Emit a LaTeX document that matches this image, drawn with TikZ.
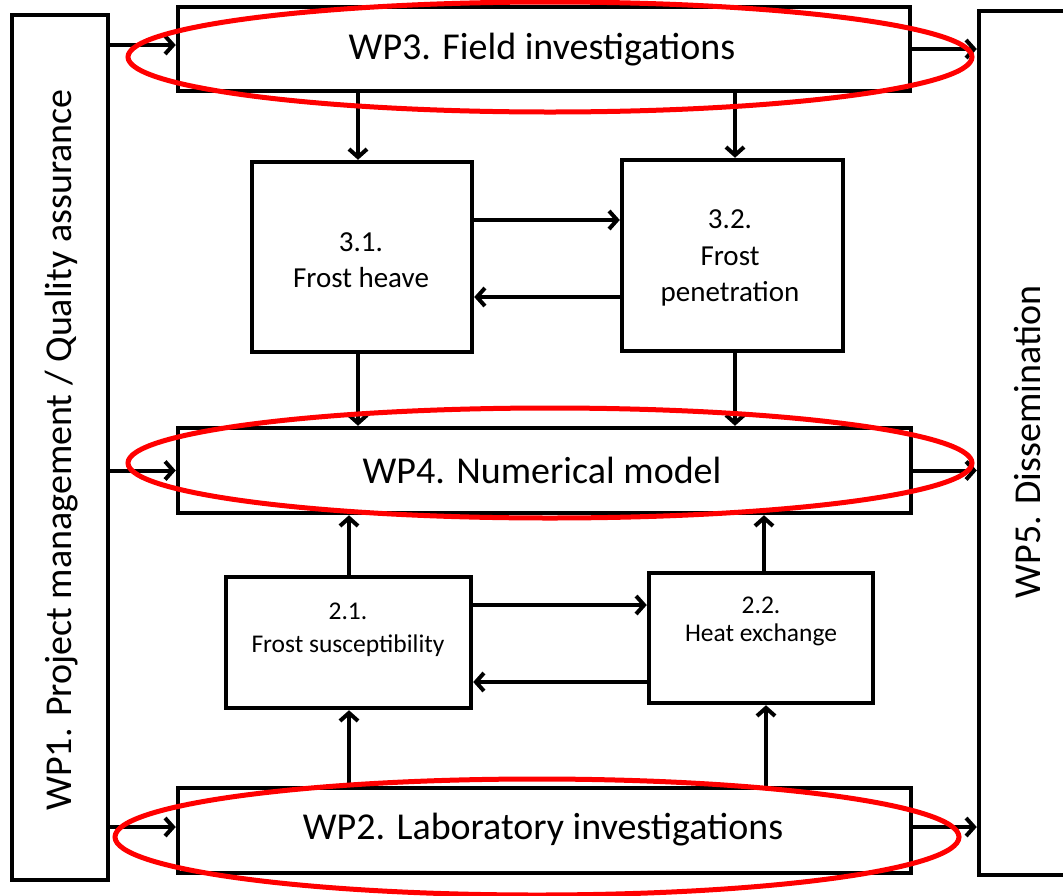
\documentclass[tikz,border=0pt]{standalone}
\usepackage{fontspec}
\setmainfont{Carlito}
\usetikzlibrary{arrows.meta}
\begin{document}
\begin{tikzpicture}[x=1pt,y=-1pt,
  wpbox/.style={draw, line width=4.5pt, inner sep=0pt, fill=white},
  arr/.style={line width=4pt, -{Straight Barb[length=8pt,width=18pt,line width=4pt]}},
  ring/.style={draw=red, line width=5pt},
  big/.style={font=\fontsize{38}{44}\selectfont},
  mid/.style={font=\fontsize{29}{36.5}\selectfont, align=center},
  small/.style={font=\fontsize{25.5}{33}\selectfont, align=center}]
\clip (0,0) rectangle (1063,895);
\fill[white] (0,0) rectangle (1063,895);
% boxes
\node[wpbox, minimum width=96pt, minimum height=865pt] (wp1) at (60,447.5) {};
\node[wpbox, minimum width=96pt, minimum height=864pt] (wp5) at (1027,443) {};
\node[wpbox, minimum width=732pt, minimum height=84pt] (wp3) at (544,49) {};
\node[wpbox, minimum width=733pt, minimum height=85pt] (wp4) at (544.5,470.5) {};
\node[wpbox, minimum width=733pt, minimum height=85pt] (wp2) at (544.5,830.5) {};
\node[wpbox, minimum width=220pt, minimum height=190pt] (t31) at (362,257) {};
\node[wpbox, minimum width=221pt, minimum height=191pt] (t32) at (732.5,255.5) {};
\node[wpbox, minimum width=245pt, minimum height=131pt] (t21) at (348.5,642.5) {};
\node[wpbox, minimum width=224pt, minimum height=130pt] (t22) at (761,638) {};
% texts
\node[big, rotate=90] (l1) at (62,450) {WP1. Project management / Quality assurance};
\node[big, rotate=90] (l5) at (1027,442) {WP5. Dissemination};
\node[big] (l3) at (542,50) {WP3. Field investigations};
\node[big] (l4) at (542,470) {WP4. Numerical model};
\node[big] (l2) at (543,830) {WP2. Laboratory investigations};
\node[mid] (l31) at (361,260) {3.1.\\Frost heave};
\node[mid] (l32) at (730,258) {3.2.\\Frost\\penetration};
\node[small] (l21) at (348,630) {2.1.\\Frost susceptibility};
\node[small, font=\fontsize{25.5}{28}\selectfont] (l22) at (761,621) {2.2.\\Heat exchange};
% connectors
\draw[arr] (wp1.east |- 0,45) -- (wp3.west |- 0,45);
\draw[arr] (wp1.east |- wp4.west) -- (wp4.west);
\draw[arr] (wp1.east |- 0,827) -- (wp2.west |- 0,827);
\draw[arr] (wp3.east) -- (wp5.west |- wp3.east);
\draw[arr] (wp4.east) -- (wp5.west |- wp4.east);
\draw[arr] (wp2.east |- 0,827) -- (wp5.west |- 0,827);
\draw[arr] (wp3.south -| 358,0) -- (t31.north -| 358,0);
\draw[arr] (wp3.south -| 735,0) -- (t32.north -| 735,0);
\draw[arr] (t31.south -| 358,0) -- (wp4.north -| 358,0);
\draw[arr] (t32.south -| 735,0) -- (wp4.north -| 735,0);
\draw[arr] (t31.east |- 0,220) -- (t32.west |- 0,220);
\draw[arr] (t32.west |- 0,297) -- (t31.east |- 0,297);
\draw[arr] (t21.north -| 349,0) -- (wp4.south -| 349,0);
\draw[arr] (t22.north -| 764,0) -- (wp4.south -| 764,0);
\draw[arr] (wp2.north -| 349,0) -- (t21.south -| 349,0);
\draw[arr] (wp2.north -| 766,0) -- (t22.south -| 766,0);
\draw[arr] (t21.east |- 0,605) -- (t22.west |- 0,605);
\draw[arr] (t22.west |- 0,682) -- (t21.east |- 0,682);
% red rings
\draw[ring] (550,57) ellipse [x radius=422, y radius=55];
\draw[ring] (550,463) ellipse [x radius=422, y radius=55];
\draw[ring] (537,837) ellipse [x radius=422, y radius=58];
\end{tikzpicture}
\end{document}
